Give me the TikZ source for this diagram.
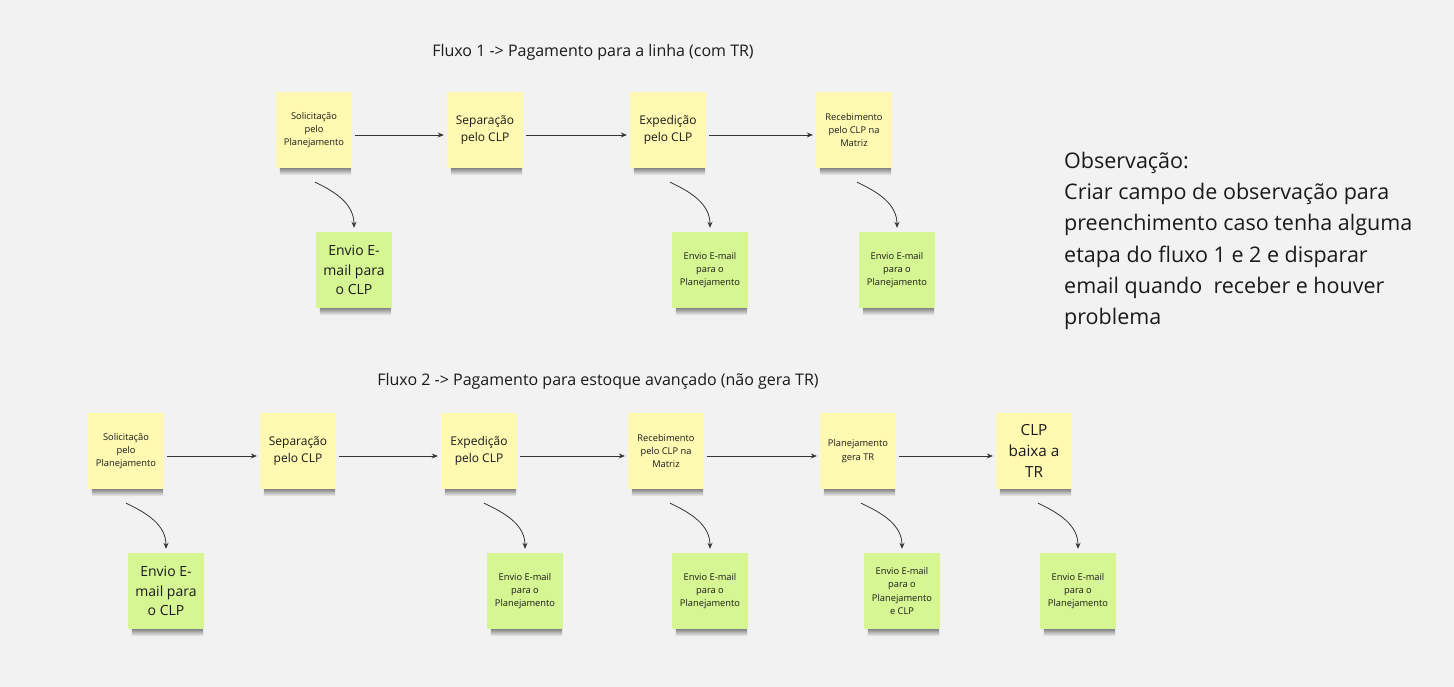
\documentclass[tikz,border=0pt]{standalone}
\usepackage{fontspec}
\setmainfont{Open Sans}
\usetikzlibrary{arrows.meta,backgrounds}
\definecolor{bg}{HTML}{F2F2F2}
\definecolor{stY}{HTML}{FFF9B1}
\definecolor{stG}{HTML}{D5F692}
\definecolor{ink}{HTML}{1A1A1A}
\definecolor{arr}{HTML}{333333}
\tikzset{
 sticky/.style={minimum width=76pt, minimum height=76pt, inner sep=2pt, align=center, text=ink},
 ynote/.style={sticky, fill=stY},
 gnote/.style={sticky, fill=stG},
 small/.style={font=\fontsize{9.3}{13.3}\selectfont},
 mid/.style={font=\fontsize{12}{16.7}\selectfont},
 big/.style={font=\fontsize{14}{19.5}\selectfont},
 bigger/.style={font=\fontsize{15.3}{21}\selectfont},
 flow/.style={draw=arr, line width=0.8pt, -{Stealth[length=6pt,width=5pt]}},
 curvearrow/.style={flow, out=-25, in=90},
 title/.style={font=\fontsize{16}{19}\selectfont, text=ink, inner sep=0pt},
 shadowbar/.style={top color=black!50!bg, bottom color=bg, draw=none},
}
\begin{document}
\begin{tikzpicture}[x=1pt,y=1pt]
\useasboundingbox (0,0) rectangle (1454,-687);

% titles
\node[title] (t1) at (593,-52) {Fluxo 1 -> Pagamento para a linha (com TR)};
\node[title] (t2) at (598,-381) {Fluxo 2 -> Pagamento para estoque avançado (não gera TR)};

% Flow 1
\node[ynote, small] (a1) at (314,-130) {Solicitação\\pelo\\Planejamento};
\node[ynote, mid] (a2) at (485,-130) {Separação\\pelo CLP};
\node[ynote, mid] (a3) at (668,-130) {Expedição\\pelo CLP};
\node[ynote, small] (a4) at (854,-130) {Recebimento\\pelo CLP na\\Matriz};

\node[gnote, big] (e1) at (354,-270) {Envio E-\\mail para\\o CLP};
\node[gnote, small] (e2) at (710,-270) {Envio E-mail\\para o\\Planejamento};
\node[gnote, small] (e3) at (897,-270) {Envio E-mail\\para o\\Planejamento};

\draw[flow] ([xshift=3pt,yshift=-5pt]a1.east) -- ([xshift=-3pt,yshift=-5pt]a2.west);
\draw[flow] ([xshift=3pt,yshift=-5pt]a2.east) -- ([xshift=-3pt,yshift=-5pt]a3.west);
\draw[flow] ([xshift=3pt,yshift=-5pt]a3.east) -- ([xshift=-3pt,yshift=-5pt]a4.west);

\draw[curvearrow] ([xshift=1pt,yshift=-14pt]a1.south) to ([yshift=4pt]e1.north);
\draw[curvearrow] ([xshift=2pt,yshift=-14pt]a3.south) to ([yshift=4pt]e2.north);
\draw[curvearrow] ([xshift=3pt,yshift=-14pt]a4.south) to ([yshift=4pt]e3.north);

% Flow 2
\node[ynote, small] (b1) at (126,-451) {Solicitação\\pelo\\Planejamento};
\node[ynote, mid] (b2) at (298,-451) {Separação\\pelo CLP};
\node[ynote, mid] (b3) at (479,-451) {Expedição\\pelo CLP};
\node[ynote, small] (b4) at (666,-451) {Recebimento\\pelo CLP na\\Matriz};
\node[ynote, small] (b5) at (858,-451) {Planejamento\\gera TR};
\node[ynote, bigger] (b6) at (1034,-451) {CLP\\baixa a\\TR};

\node[gnote, big] (f1) at (166,-591) {Envio E-\\mail para\\o CLP};
\node[gnote, small] (f2) at (525,-591) {Envio E-mail\\para o\\Planejamento};
\node[gnote, small] (f3) at (710,-591) {Envio E-mail\\para o\\Planejamento};
\node[gnote, small] (f4) at (902,-591) {Envio E-mail\\para o\\Planejamento\\e CLP};
\node[gnote, small] (f5) at (1078,-591) {Envio E-mail\\para o\\Planejamento};

\draw[flow] ([xshift=3pt,yshift=-5pt]b1.east) -- ([xshift=-3pt,yshift=-5pt]b2.west);
\draw[flow] ([xshift=3pt,yshift=-5pt]b2.east) -- ([xshift=-3pt,yshift=-5pt]b3.west);
\draw[flow] ([xshift=3pt,yshift=-5pt]b3.east) -- ([xshift=-3pt,yshift=-5pt]b4.west);
\draw[flow] ([xshift=3pt,yshift=-5pt]b4.east) -- ([xshift=-3pt,yshift=-5pt]b5.west);
\draw[flow] ([xshift=3pt,yshift=-5pt]b5.east) -- ([xshift=-3pt,yshift=-5pt]b6.west);

\draw[curvearrow] ([xshift=0pt,yshift=-14pt]b1.south) to ([yshift=4pt]f1.north);
\draw[curvearrow] ([xshift=5pt,yshift=-14pt]b3.south) to ([yshift=4pt]f2.north);
\draw[curvearrow] ([xshift=4pt,yshift=-14pt]b4.south) to ([yshift=4pt]f3.north);
\draw[curvearrow] ([xshift=3pt,yshift=-14pt]b5.south) to ([yshift=4pt]f4.north);
\draw[curvearrow] ([xshift=4pt,yshift=-14pt]b6.south) to ([yshift=4pt]f5.north);

% Observation
\node[anchor=north west, inner sep=0pt, align=left, text=ink,
      font=\fontsize{21.5}{31.2}\selectfont] (obs) at (1064,-152)
 {Observação:\\Criar campo de observação para\\preenchimento caso tenha alguma\\etapa do fluxo 1 e 2 e disparar\\email quando\ \ receber e houver\\problema};

\begin{pgfonlayer}{background}
\fill[bg] (0,0) rectangle (1454,-687);
\foreach \n in {a1,a2,a3,a4,e1,e2,e3,b1,b2,b3,b4,b5,b6,f1,f2,f3,f4,f5}{
  \shade[shadowbar] ([xshift=4pt,yshift=1pt]\n.south west) rectangle ([xshift=-1pt,yshift=-7pt]\n.south east);
}
\end{pgfonlayer}
\end{tikzpicture}
\end{document}
